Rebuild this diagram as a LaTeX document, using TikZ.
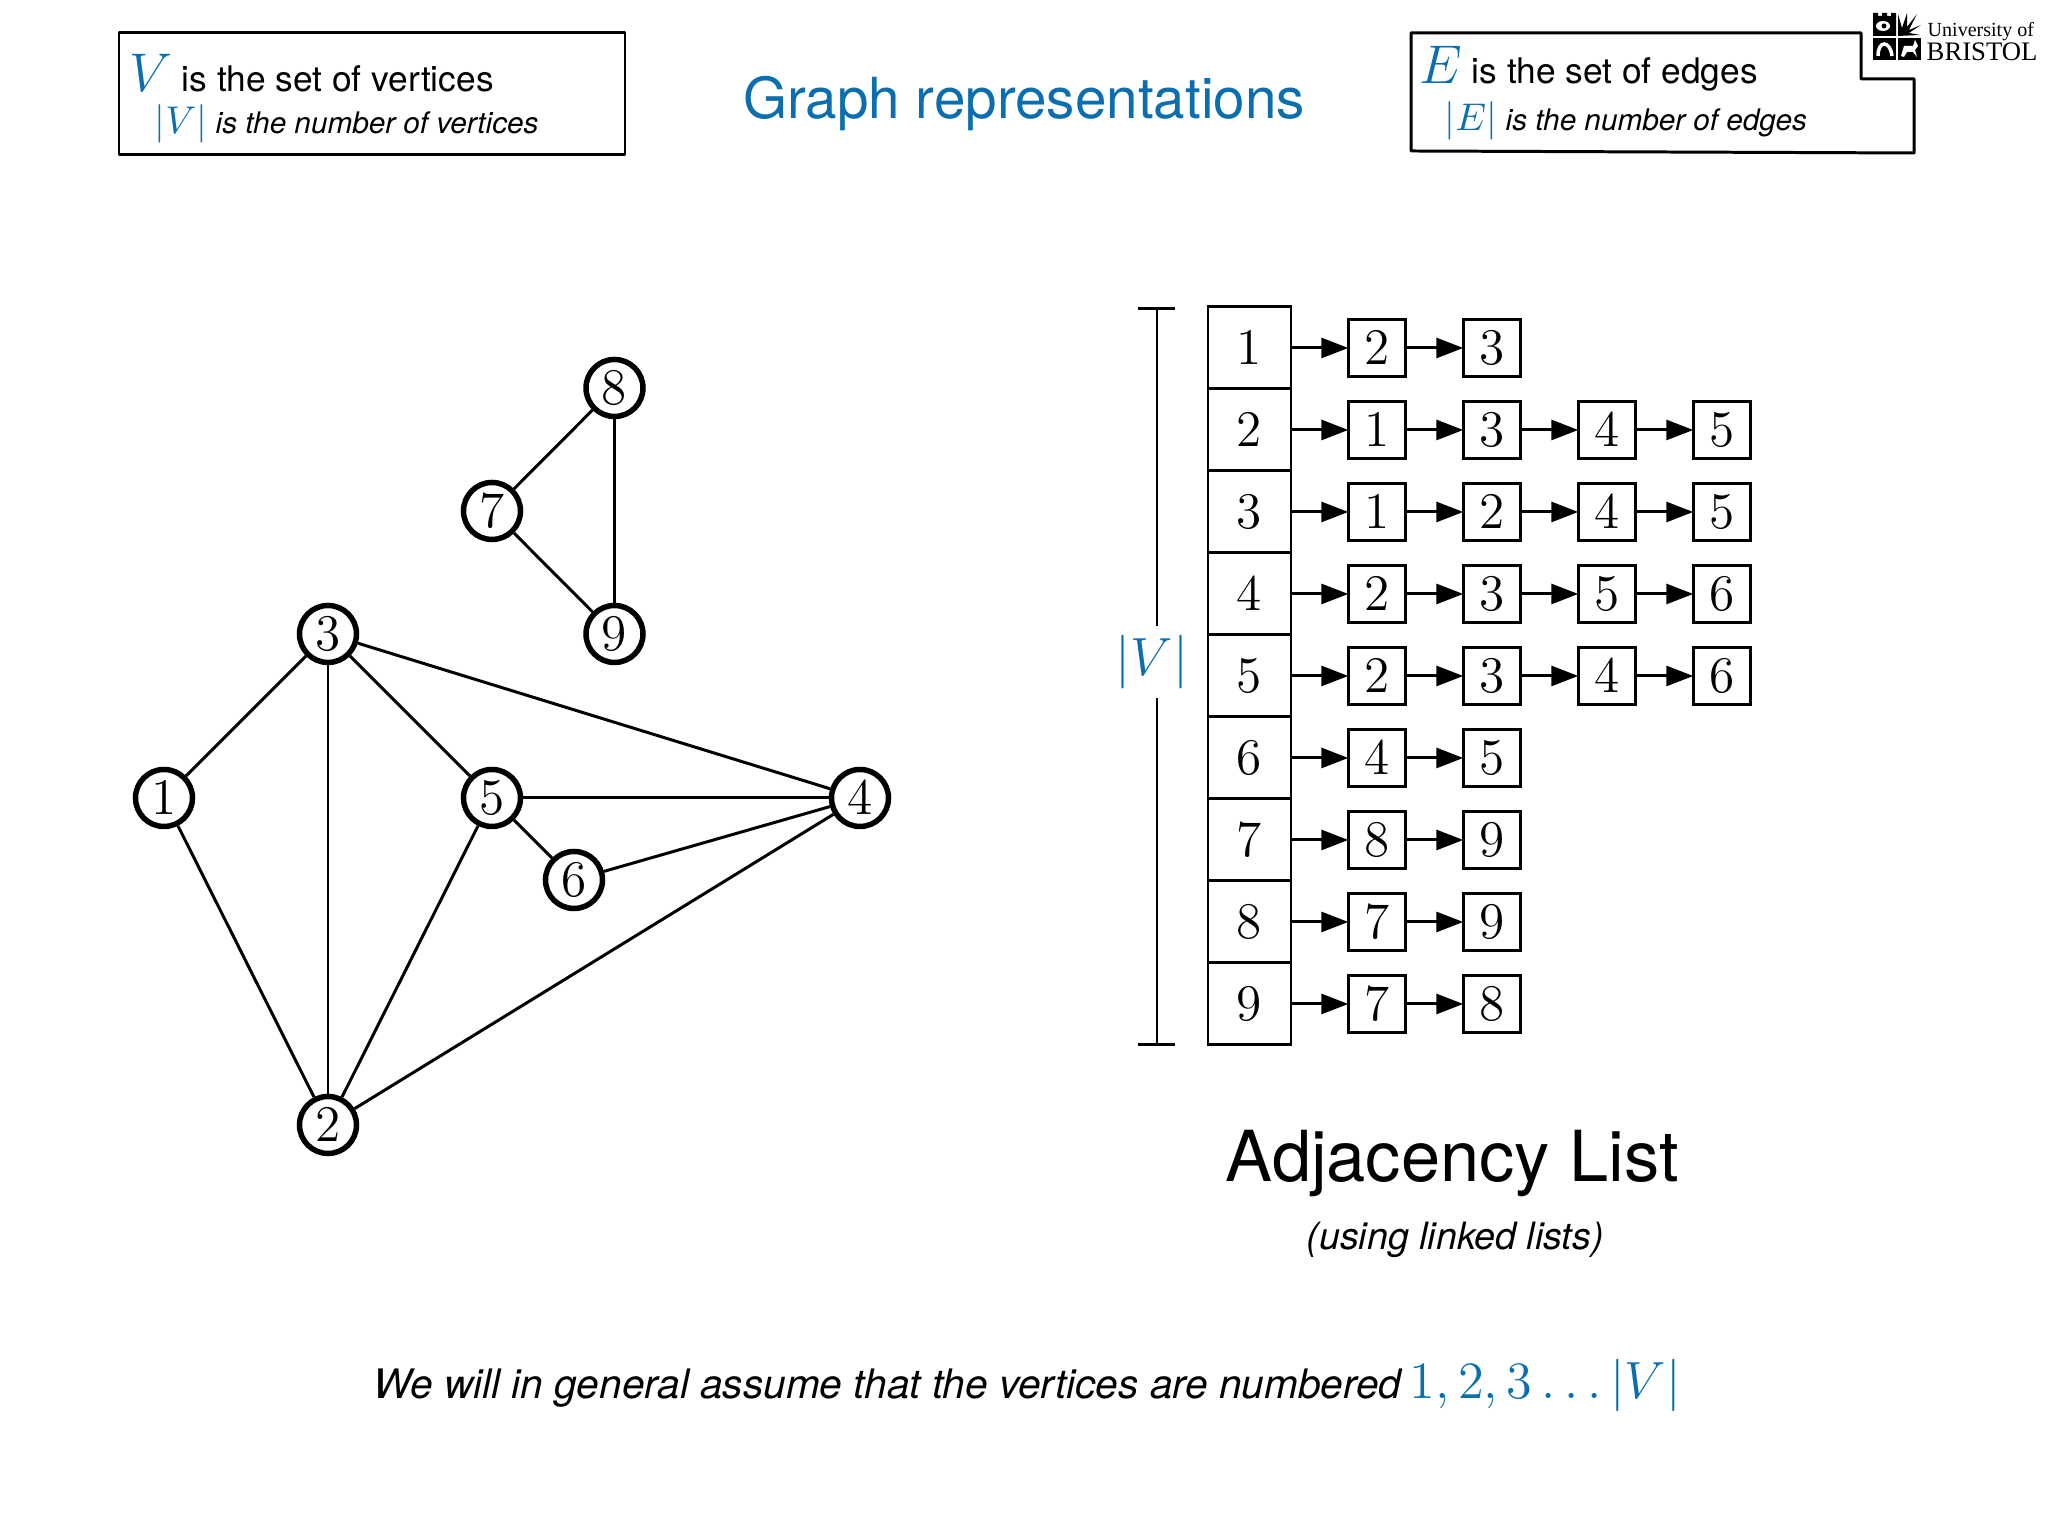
\documentclass[tikz,border=0pt]{standalone}
\usepackage{fix-cm}
\usepackage[no-math]{fontspec}
\setmainfont{TeX Gyre Heros}
\newfontfamily\crestfont{Liberation Serif}
\usetikzlibrary{arrows.meta}
\definecolor{slideblue}{RGB}{11,111,175}
\tikzset{
    vertex/.style={draw, circle, line width=0.055cm, minimum size=0.57cm, inner sep=0pt, fill=white},
    graphedge/.style={line width=0.85pt},
    headbox/.style={draw, line width=0.85pt, minimum width=0.83cm, minimum height=0.82cm, inner sep=0pt, outer sep=0pt},
    cellbox/.style={draw, line width=0.85pt, minimum size=0.575cm, inner sep=0pt, outer sep=0pt},
    linkarrow/.style={line width=0.85pt, -{Triangle[length=0.27cm,width=0.2cm]}},
    slidetext/.style={anchor=base west, inner sep=0pt},
    frameline/.style={line width=0.85pt, line join=round}
}
\newcommand{\digit}[1]{\fontsize{14.6}{14}\selectfont$#1$}
\begin{document}
\begin{tikzpicture}
    \useasboundingbox (0,0) rectangle (20.48,15.36);

    \draw[frameline] (1.19,15.03) rectangle (6.25,13.81);
    \node[slidetext] (vbig) at (1.29,14.44) {\fontsize{15.5}{16}\selectfont\color{slideblue}$V$};
    \node[slidetext] (vset) at (1.81,14.44) {\fontsize{10.05}{12}\selectfont is the set of vertices};
    \node[slidetext] (vsize) at (1.54,14.02) {\fontsize{11}{12}\selectfont\color{slideblue}$|V|$};
    \node[slidetext] (vnum) at (2.15,14.02) {\fontsize{8.45}{10}\selectfont\itshape is the number of vertices};

    \node[anchor=base, inner sep=0pt, text=slideblue] (title) at (10.24,14.17) {\fontsize{16.1}{18}\selectfont Graph representations};

    \draw[frameline] (14.11,15.03) -- (18.61,15.03) -- (18.61,14.57) -- (19.14,14.57) -- (19.14,13.83) -- (14.11,13.85) -- cycle;
    \node[slidetext] (ebig) at (14.19,14.52) {\fontsize{15.5}{16}\selectfont\color{slideblue}$E$};
    \node[slidetext] (eset) at (14.71,14.52) {\fontsize{10.05}{12}\selectfont is the set of edges};
    \node[slidetext] (esize) at (14.44,14.05) {\fontsize{11}{12}\selectfont\color{slideblue}$|E|$};
    \node[slidetext] (enum) at (15.05,14.05) {\fontsize{8.45}{10}\selectfont\itshape is the number of edges};

    \fill (18.73,15.00) -- (18.73,15.23) -- (18.78,15.23) -- (18.78,15.20) -- (18.82,15.20) -- (18.82,15.23) -- (18.87,15.23) -- (18.87,15.20) -- (18.91,15.20) -- (18.91,15.23) -- (18.96,15.23) -- (18.96,15.00) -- cycle;
    \fill[white] (18.83,15.10) ellipse (0.07 and 0.05);
    \fill (18.84,15.10) circle (0.025);
    \fill (18.98,15.00) -- (18.98,15.22) -- (19.02,15.08) -- (19.07,15.23) -- (19.07,15.09) -- (19.17,15.22) -- (19.09,15.06) -- (19.21,15.11) -- (19.09,15.03) -- (19.20,15.01) -- cycle;
    \fill (18.73,14.76) rectangle (18.96,14.98);
    \draw[white, line width=0.035cm] (18.78,14.80) .. controls (18.78,14.96) and (18.90,14.96) .. (18.92,14.80);
    \fill (18.98,14.76) rectangle (19.21,14.98);
    \fill[white] (19.01,14.80) -- (19.04,14.90) -- (19.13,14.90) -- (19.15,14.96) -- (19.18,14.90) -- (19.15,14.86) -- (19.17,14.79) -- (19.13,14.84) -- (19.07,14.84) -- (19.04,14.79) -- cycle;
    \node[slidetext] (unitext) at (19.27,14.99) {\crestfont\fontsize{5.7}{6}\selectfont University of};
    \node[slidetext] (unibrand) at (19.26,14.75) {\crestfont\fontsize{7.6}{8}\selectfont BRISTOL};

    \node[vertex] (v8) at (6.145,11.48) {\digit{8}};
    \node[vertex] (v7) at (4.92,10.25) {\digit{7}};
    \node[vertex] (v9) at (6.145,9.02) {\digit{9}};
    \node[vertex] (v3) at (3.28,9.02) {\digit{3}};
    \node[vertex] (v1) at (1.64,7.38) {\digit{1}};
    \node[vertex] (v5) at (4.92,7.38) {\digit{5}};
    \node[vertex] (v4) at (8.60,7.38) {\digit{4}};
    \node[vertex] (v6) at (5.74,6.56) {\digit{6}};
    \node[vertex] (v2) at (3.28,4.11) {\digit{2}};

    \draw[graphedge] (v7) -- (v8);
    \draw[graphedge] (v8) -- (v9);
    \draw[graphedge] (v7) -- (v9);
    \draw[graphedge] (v3) -- (v1);
    \draw[graphedge] (v3) -- (v2);
    \draw[graphedge] (v3) -- (v5);
    \draw[graphedge] (v3) -- (v4);
    \draw[graphedge] (v1) -- (v2);
    \draw[graphedge] (v5) -- (v2);
    \draw[graphedge] (v2) -- (v4);
    \draw[graphedge] (v5) -- (v4);
    \draw[graphedge] (v5) -- (v6);
    \draw[graphedge] (v6) -- (v4);

    \coordinate (bartop) at (11.57,12.27);
    \coordinate (barbot) at (11.57,4.91);
    \node[inner sep=0pt, text=slideblue] (vlabel) at (11.52,8.74) {\fontsize{15.3}{16}\selectfont$|V|$};
    \draw[graphedge] (bartop) -- ([yshift=0.08cm]bartop |- vlabel.north);
    \draw[graphedge] (barbot) -- ([yshift=-0.08cm]barbot |- vlabel.south);
    \draw[graphedge] (11.38,12.27) -- (11.75,12.27);
    \draw[graphedge] (11.38,4.91) -- (11.75,4.91);

    \node[headbox] (row1) at (12.495,11.88) {\digit{1}};
    \node[headbox] (row2) at (12.495,11.06) {\digit{2}};
    \node[headbox] (row3) at (12.495,10.24) {\digit{3}};
    \node[headbox] (row4) at (12.495,9.42) {\digit{4}};
    \node[headbox] (row5) at (12.495,8.60) {\digit{5}};
    \node[headbox] (row6) at (12.495,7.78) {\digit{6}};
    \node[headbox] (row7) at (12.495,6.96) {\digit{7}};
    \node[headbox] (row8) at (12.495,6.14) {\digit{8}};
    \node[headbox] (row9) at (12.495,5.32) {\digit{9}};

    \node[cellbox] (a1) at (13.77,11.88) {\digit{2}};
    \node[cellbox] (b1) at (14.92,11.88) {\digit{3}};
    \node[cellbox] (a2) at (13.77,11.06) {\digit{1}};
    \node[cellbox] (b2) at (14.92,11.06) {\digit{3}};
    \node[cellbox] (c2) at (16.07,11.06) {\digit{4}};
    \node[cellbox] (d2) at (17.22,11.06) {\digit{5}};
    \node[cellbox] (a3) at (13.77,10.24) {\digit{1}};
    \node[cellbox] (b3) at (14.92,10.24) {\digit{2}};
    \node[cellbox] (c3) at (16.07,10.24) {\digit{4}};
    \node[cellbox] (d3) at (17.22,10.24) {\digit{5}};
    \node[cellbox] (a4) at (13.77,9.42) {\digit{2}};
    \node[cellbox] (b4) at (14.92,9.42) {\digit{3}};
    \node[cellbox] (c4) at (16.07,9.42) {\digit{5}};
    \node[cellbox] (d4) at (17.22,9.42) {\digit{6}};
    \node[cellbox] (a5) at (13.77,8.60) {\digit{2}};
    \node[cellbox] (b5) at (14.92,8.60) {\digit{3}};
    \node[cellbox] (c5) at (16.07,8.60) {\digit{4}};
    \node[cellbox] (d5) at (17.22,8.60) {\digit{6}};
    \node[cellbox] (a6) at (13.77,7.78) {\digit{4}};
    \node[cellbox] (b6) at (14.92,7.78) {\digit{5}};
    \node[cellbox] (a7) at (13.77,6.96) {\digit{8}};
    \node[cellbox] (b7) at (14.92,6.96) {\digit{9}};
    \node[cellbox] (a8) at (13.77,6.14) {\digit{7}};
    \node[cellbox] (b8) at (14.92,6.14) {\digit{9}};
    \node[cellbox] (a9) at (13.77,5.32) {\digit{7}};
    \node[cellbox] (b9) at (14.92,5.32) {\digit{8}};

    \draw[linkarrow] (row1) -- (a1);
    \draw[linkarrow] (a1) -- (b1);
    \draw[linkarrow] (row2) -- (a2);
    \draw[linkarrow] (a2) -- (b2);
    \draw[linkarrow] (b2) -- (c2);
    \draw[linkarrow] (c2) -- (d2);
    \draw[linkarrow] (row3) -- (a3);
    \draw[linkarrow] (a3) -- (b3);
    \draw[linkarrow] (b3) -- (c3);
    \draw[linkarrow] (c3) -- (d3);
    \draw[linkarrow] (row4) -- (a4);
    \draw[linkarrow] (a4) -- (b4);
    \draw[linkarrow] (b4) -- (c4);
    \draw[linkarrow] (c4) -- (d4);
    \draw[linkarrow] (row5) -- (a5);
    \draw[linkarrow] (a5) -- (b5);
    \draw[linkarrow] (b5) -- (c5);
    \draw[linkarrow] (c5) -- (d5);
    \draw[linkarrow] (row6) -- (a6);
    \draw[linkarrow] (a6) -- (b6);
    \draw[linkarrow] (row7) -- (a7);
    \draw[linkarrow] (a7) -- (b7);
    \draw[linkarrow] (row8) -- (a8);
    \draw[linkarrow] (a8) -- (b8);
    \draw[linkarrow] (row9) -- (a9);
    \draw[linkarrow] (a9) -- (b9);

    \node[slidetext] (listname) at (12.25,3.54) {\fontsize{20.03}{22}\selectfont Adjacency List};
    \node[slidetext] (listnote) at (13.06,2.86) {\fontsize{10.7}{12}\selectfont\itshape (using linked lists)};
    \node[slidetext] (assume) at (3.73,1.37) {\fontsize{11.55}{13}\selectfont\itshape We will in general assume that the vertices are numbered};
    \node[slidetext, text=slideblue] (numbers) at (14.09,1.37) {\fontsize{14.9}{17}\selectfont$1,2,3\ldots|V|$};
\end{tikzpicture}
\end{document}
